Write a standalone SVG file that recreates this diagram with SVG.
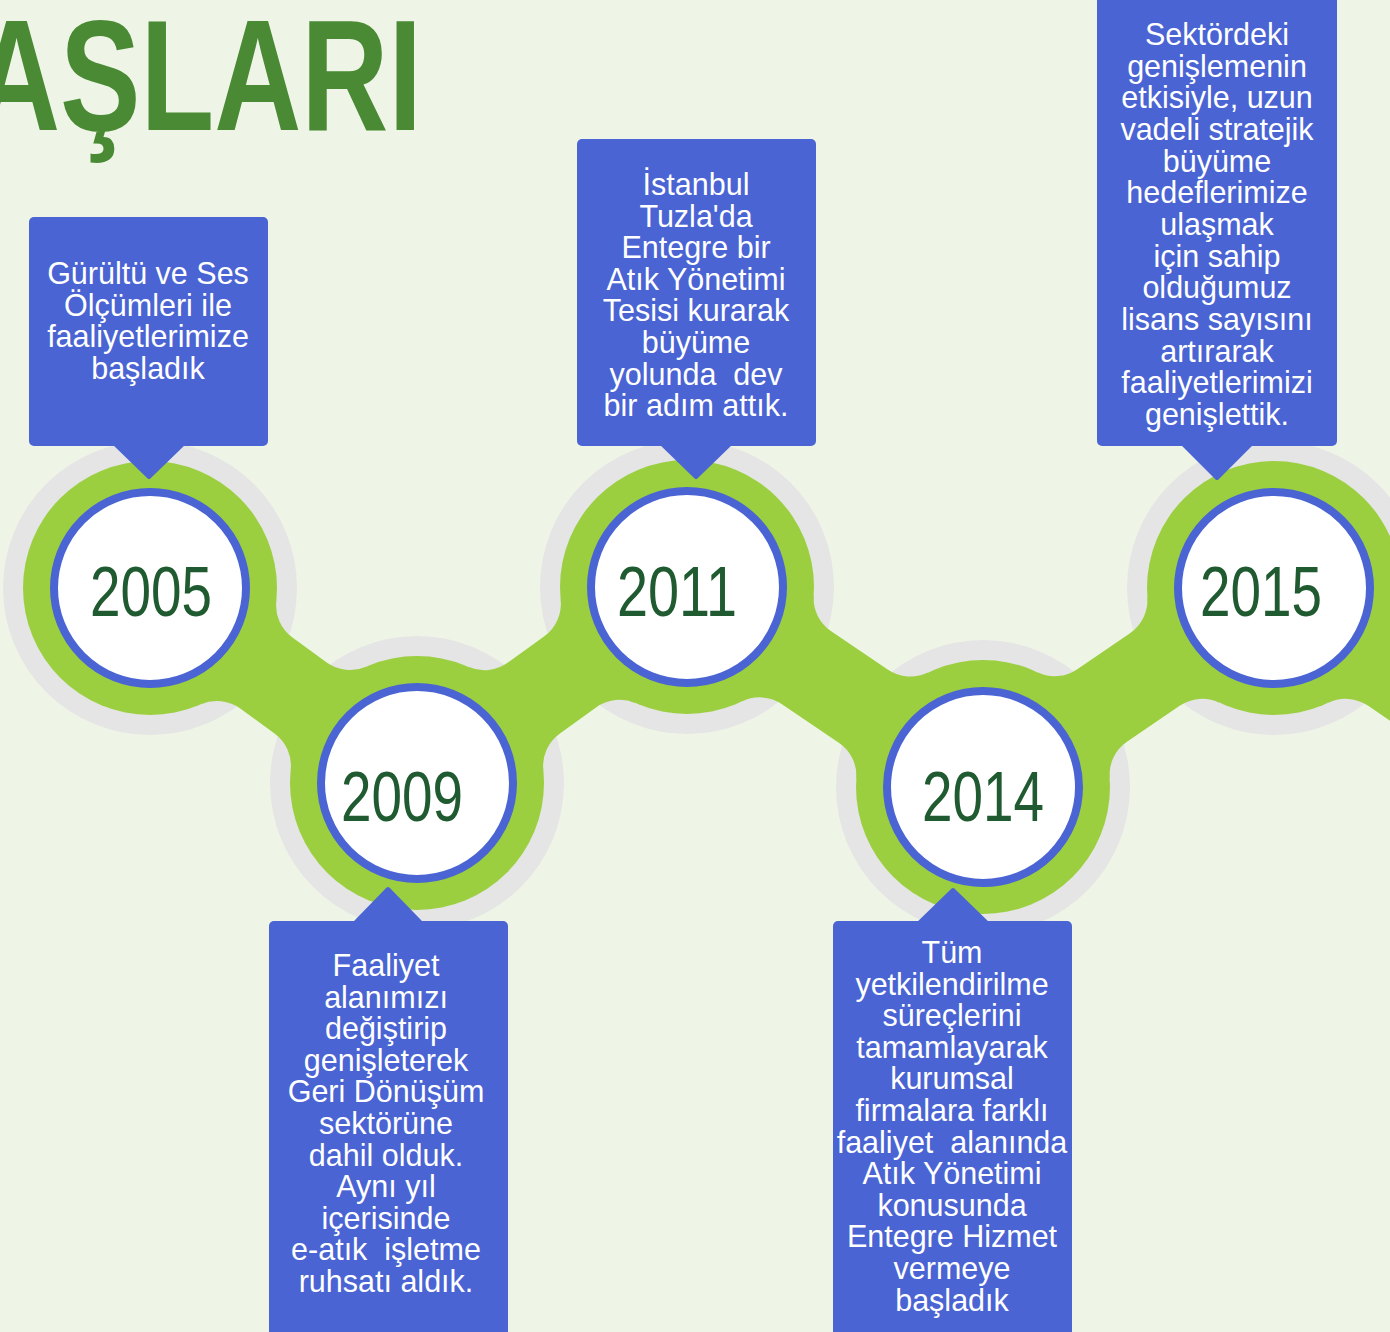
<svg xmlns="http://www.w3.org/2000/svg" width="1390" height="1332" viewBox="0 0 1390 1332">
<style>
.bg{fill:#EFF5E6}
.ring{fill:#E5E5E5}
.green{fill:#9BCF40}
.node{fill:#FFFFFF;stroke:#4A64D4;stroke-width:8}
.year{font-family:"Liberation Sans",Arial,sans-serif;font-size:71px;fill:#205A30;text-anchor:middle}
.box{fill:#4A64D4}
.ptr{fill:#4A64D4;stroke:#4A64D4;stroke-width:4;stroke-linejoin:round}
.t{font-family:"Liberation Sans",Arial,sans-serif;font-size:30.5px;fill:#FFFFFF;text-anchor:middle}
.title{font-family:"Liberation Sans",Arial,sans-serif;font-weight:bold;font-size:158px;fill:#4A8A34}
</style>
<rect class="bg" x="0" y="0" width="1390" height="1332"/>
<text class="title" x="-27" y="130" textLength="449" lengthAdjust="spacingAndGlyphs">AŞLARI</text>

<g id="rings">
<circle class="ring" cx="150" cy="588" r="147"/>
<circle class="ring" cx="417" cy="783" r="147"/>
<circle class="ring" cx="687" cy="587" r="147"/>
<circle class="ring" cx="983" cy="787" r="147"/>
<circle class="ring" cx="1274" cy="588" r="147"/>
</g>

<g id="connectors" class="green">
<path transform="translate(150,588) rotate(36.14)" d="M109.7,-63.9 A40,40 0 0 0 144.3,-44 L186.3,-44 A40,40 0 0 0 220.9,-63.9 L220.9,63.9 A40,40 0 0 0 186.3,44 L144.3,44 A40,40 0 0 0 109.7,63.9 Z"/>
<path transform="translate(417,783) rotate(-35.98)" d="M109.7,-63.9 A40,40 0 0 0 144.3,-44 L189.3,-44 A40,40 0 0 0 223.9,-63.9 L223.9,63.9 A40,40 0 0 0 189.3,44 L144.3,44 A40,40 0 0 0 109.7,63.9 Z"/>
<path transform="translate(687,587) rotate(34.04)" d="M109.7,-63.9 A40,40 0 0 0 144.3,-44 L212.9,-44 A40,40 0 0 0 247.5,-63.9 L247.5,63.9 A40,40 0 0 0 212.9,44 L144.3,44 A40,40 0 0 0 109.7,63.9 Z"/>
<path transform="translate(983,787) rotate(-34.37)" d="M109.7,-63.9 A40,40 0 0 0 144.3,-44 L208.2,-44 A40,40 0 0 0 242.8,-63.9 L242.8,63.9 A40,40 0 0 0 208.2,44 L144.3,44 A40,40 0 0 0 109.7,63.9 Z"/>
<path transform="translate(1274,588) rotate(34.4)" d="M109.7,-63.9 A40,40 0 0 0 144.3,-44 L207.7,-44 A40,40 0 0 0 242.3,-63.9 L242.3,63.9 A40,40 0 0 0 207.7,44 L144.3,44 A40,40 0 0 0 109.7,63.9 Z"/>
</g>

<g id="node-2005">
<circle class="green" cx="150" cy="588" r="127"/>
<circle class="node" cx="150" cy="588" r="96"/>
<text class="year" x="151" y="616" textLength="122" lengthAdjust="spacingAndGlyphs">2005</text>
</g>
<g id="node-2009">
<circle class="green" cx="417" cy="783" r="127"/>
<circle class="node" cx="417" cy="783" r="96"/>
<text class="year" x="402" y="821" textLength="122" lengthAdjust="spacingAndGlyphs">2009</text>
</g>
<g id="node-2011">
<circle class="green" cx="687" cy="587" r="127"/>
<circle class="node" cx="687" cy="587" r="96"/>
<text class="year" x="677" y="616" textLength="120" lengthAdjust="spacingAndGlyphs">2011</text>
</g>
<g id="node-2014">
<circle class="green" cx="983" cy="787" r="127"/>
<circle class="node" cx="983" cy="787" r="96"/>
<text class="year" x="983" y="821" textLength="122" lengthAdjust="spacingAndGlyphs">2014</text>
</g>
<g id="node-2015">
<circle class="green" cx="1274" cy="588" r="127"/>
<circle class="node" cx="1274" cy="588" r="96"/>
<text class="year" x="1261" y="616" textLength="122" lengthAdjust="spacingAndGlyphs">2015</text>
</g>

<g id="card-2005">
<rect class="box" x="29" y="217" width="239" height="229" rx="5"/>
<path class="ptr" d="M115,444 L183,444 L149,477 Z"/>
<text class="t" x="148" y="284">Gürültü ve Ses</text>
<text class="t" x="148" y="315.5">Ölçümleri ile</text>
<text class="t" x="148" y="347">faaliyetlerimize</text>
<text class="t" x="148" y="378.5">başladık</text>
</g>

<g id="card-2009">
<rect class="box" x="269" y="921" width="239" height="420" rx="5"/>
<path class="ptr" d="M355,923 L421,923 L388,889 Z"/>
<text class="t" x="386" y="976">Faaliyet</text>
<text class="t" x="386" y="1007.6">alanımızı</text>
<text class="t" x="386" y="1039.2">değiştirip</text>
<text class="t" x="386" y="1070.8">genişleterek</text>
<text class="t" x="386" y="1102.4">Geri Dönüşüm</text>
<text class="t" x="386" y="1134">sektörüne</text>
<text class="t" x="386" y="1165.6">dahil olduk.</text>
<text class="t" x="386" y="1197.2">Aynı yıl</text>
<text class="t" x="386" y="1228.8">içerisinde</text>
<text class="t" x="386" y="1260.4" xml:space="preserve">e-atık  işletme</text>
<text class="t" x="386" y="1292">ruhsatı aldık.</text>
</g>

<g id="card-2011">
<rect class="box" x="577" y="139" width="239" height="307" rx="5"/>
<path class="ptr" d="M662,444 L730,444 L696,477 Z"/>
<text class="t" x="696" y="195">İstanbul</text>
<text class="t" x="696" y="226.6">Tuzla'da</text>
<text class="t" x="696" y="258.2">Entegre bir</text>
<text class="t" x="696" y="289.8">Atık Yönetimi</text>
<text class="t" x="696" y="321.4">Tesisi kurarak</text>
<text class="t" x="696" y="353">büyüme</text>
<text class="t" x="696" y="384.6" xml:space="preserve">yolunda  dev</text>
<text class="t" x="696" y="416.2">bir adım attık.</text>
</g>

<g id="card-2014">
<rect class="box" x="833" y="921" width="239" height="420" rx="5"/>
<path class="ptr" d="M919,923 L987,923 L953,890 Z"/>
<text class="t" x="952" y="963">Tüm</text>
<text class="t" x="952" y="994.6">yetkilendirilme</text>
<text class="t" x="952" y="1026.2">süreçlerini</text>
<text class="t" x="952" y="1057.8">tamamlayarak</text>
<text class="t" x="952" y="1089.4">kurumsal</text>
<text class="t" x="952" y="1121">firmalara farklı</text>
<text class="t" x="952" y="1152.6" xml:space="preserve">faaliyet  alanında</text>
<text class="t" x="952" y="1184.2">Atık Yönetimi</text>
<text class="t" x="952" y="1215.8">konusunda</text>
<text class="t" x="952" y="1247.4">Entegre Hizmet</text>
<text class="t" x="952" y="1279">vermeye</text>
<text class="t" x="952" y="1310.6">başladık</text>
</g>

<g id="card-2015">
<rect class="box" x="1097" y="-6" width="240" height="452" rx="5"/>
<path class="ptr" d="M1183,444 L1251,444 L1217,478 Z"/>
<text class="t" x="1217" y="45">Sektördeki</text>
<text class="t" x="1217" y="76.7">genişlemenin</text>
<text class="t" x="1217" y="108.3">etkisiyle, uzun</text>
<text class="t" x="1217" y="140">vadeli stratejik</text>
<text class="t" x="1217" y="171.7">büyüme</text>
<text class="t" x="1217" y="203.3">hedeflerimize</text>
<text class="t" x="1217" y="235">ulaşmak</text>
<text class="t" x="1217" y="266.7">için sahip</text>
<text class="t" x="1217" y="298.3">olduğumuz</text>
<text class="t" x="1217" y="330">lisans sayısını</text>
<text class="t" x="1217" y="361.7">artırarak</text>
<text class="t" x="1217" y="393.3">faaliyetlerimizi</text>
<text class="t" x="1217" y="425">genişlettik.</text>
</g>
</svg>
